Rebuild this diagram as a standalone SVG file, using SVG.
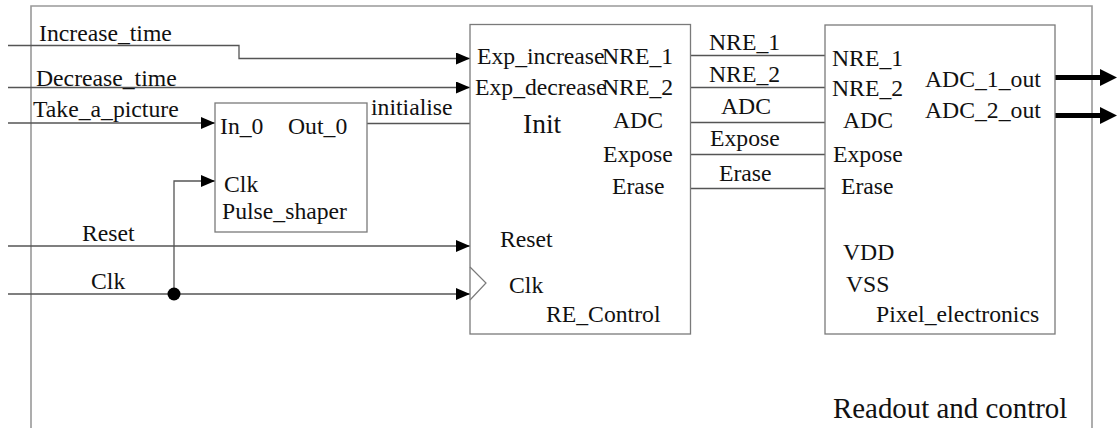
<svg xmlns="http://www.w3.org/2000/svg" width="1117" height="428" viewBox="0 0 1117 428">
  <style>
    text { font-family: "Liberation Serif", "Times New Roman", serif; font-size: 23.7px; fill: #111; }
    .big { font-size: 27.5px; }
    .title { font-size: 28.9px; }
    .frame { fill: none; stroke: #999; stroke-width: 1.6; }
    .box { fill: #fff; stroke: #7a7a7a; stroke-width: 1.3; }
    .wire { fill: none; stroke: #555; stroke-width: 1.3; }
    .bus { fill: none; stroke: #000; stroke-width: 5; }
  </style>
  <defs>
    <marker id="arr" markerWidth="14" markerHeight="12" refX="14" refY="6" orient="auto" markerUnits="userSpaceOnUse">
      <path d="M0,0 L14,6 L0,12 Z" fill="#000"/>
    </marker>
  </defs>

  <!-- enclosing block -->
  <g id="readout_and_control">
    <path class="frame" d="M31,440 L31,6 L1092,6 L1092,440"/>
    <text class="title" x="833" y="418">Readout and control</text>
  </g>

  <!-- connectors -->
  <g id="connectors">
    <path class="wire" d="M8,45.5 H239 V58.5 H470" marker-end="url(#arr)"/>
    <path class="wire" d="M8,87.5 H470" marker-end="url(#arr)"/>
    <path class="wire" d="M8,123 H215" marker-end="url(#arr)"/>
    <path class="wire" d="M367,123.5 H470"/>
    <path class="wire" d="M174,294 V181 H215" marker-end="url(#arr)"/>
    <path class="wire" d="M8,246 H470" marker-end="url(#arr)"/>
    <path class="wire" d="M8,294 H470" marker-end="url(#arr)"/>
    <circle cx="174" cy="294" r="6.5" fill="#000"/>
    <path class="wire" d="M690,55.5 H825"/>
    <path class="wire" d="M690,87.5 H825"/>
    <path class="wire" d="M690,122.5 H825"/>
    <path class="wire" d="M690,154.5 H825"/>
    <path class="wire" d="M690,188.5 H825"/>
    <path class="bus" d="M1055,77.5 H1102"/>
    <path d="M1100,69 L1117,77.5 L1100,86 Z" fill="#000"/>
    <path class="bus" d="M1055,115.5 H1102"/>
    <path d="M1100,107 L1117,115.5 L1100,124 Z" fill="#000"/>
    <text x="39" y="41">Increase_time</text>
    <text x="36" y="86">Decrease_time</text>
    <text x="33" y="117">Take_a_picture</text>
    <text x="371" y="115">initialise</text>
    <text x="82" y="241">Reset</text>
    <text x="91" y="289">Clk</text>
    <text x="709" y="50">NRE_1</text>
    <text x="709" y="82">NRE_2</text>
    <text x="721" y="114">ADC</text>
    <text x="710" y="146">Expose</text>
    <text x="719" y="181">Erase</text>
  </g>

  <!-- pulse shaper -->
  <g id="pulse_shaper">
    <rect class="box" x="215" y="103" width="152" height="129"/>
    <text x="220" y="134">In_0</text>
    <text x="288" y="134">Out_0</text>
    <text x="224" y="192">Clk</text>
    <text x="222" y="219">Pulse_shaper</text>
  </g>

  <!-- RE control block -->
  <g id="re_control">
    <rect class="box" x="470" y="24.5" width="220.5" height="309.5"/>
    <path d="M470,267 L486,283 L470,300" fill="none" stroke="#7a7a7a" stroke-width="1.2"/>
    <text x="477" y="64">Exp_increase</text>
    <text x="475" y="95">Exp_decrease</text>
    <text x="602" y="64">NRE_1</text>
    <text x="602" y="95">NRE_2</text>
    <text class="big" x="523" y="133">Init</text>
    <text x="613" y="128">ADC</text>
    <text x="603" y="162">Expose</text>
    <text x="612" y="194">Erase</text>
    <text x="500" y="247">Reset</text>
    <text x="509" y="293">Clk</text>
    <text x="546" y="322">RE_Control</text>
  </g>

  <!-- pixel electronics block -->
  <g id="pixel_electronics">
    <rect class="box" x="825" y="25" width="230" height="309"/>
    <text x="832" y="66">NRE_1</text>
    <text x="832" y="96">NRE_2</text>
    <text x="843" y="128">ADC</text>
    <text x="833" y="162">Expose</text>
    <text x="841" y="194">Erase</text>
    <text x="925" y="87">ADC_1_out</text>
    <text x="925" y="118">ADC_2_out</text>
    <text x="843" y="260">VDD</text>
    <text x="846" y="292">VSS</text>
    <text x="876" y="322">Pixel_electronics</text>
  </g>
</svg>
